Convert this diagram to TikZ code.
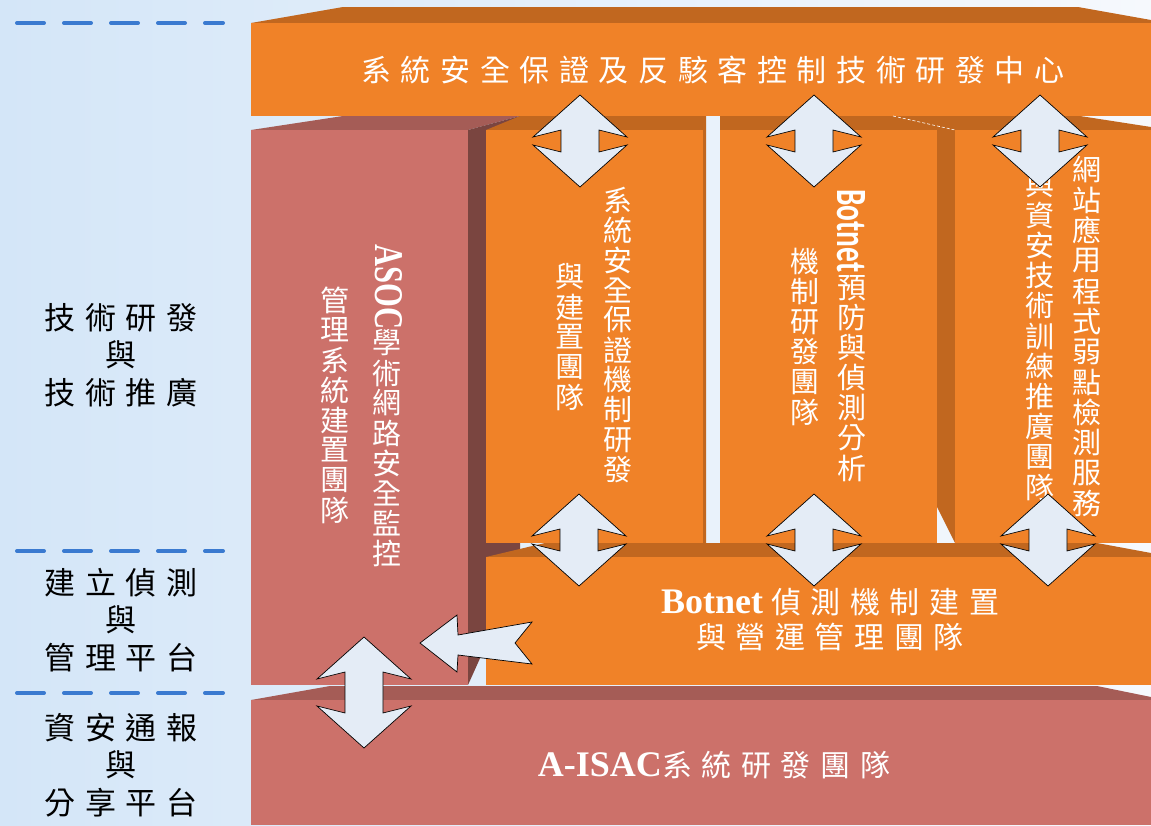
\documentclass[tikz,border=0pt]{standalone}
\usepackage{graphicx}
\usepackage{fontspec}
\setmainfont{Liberation Serif}
\setsansfont{Carlito}
\newfontfamily\cjk{Noto Sans CJK TC}
\newfontfamily\cjkw{Noto Sans CJK TC}[LetterSpace=32]
\usepackage{tikz}
\usetikzlibrary{positioning}

\definecolor{orfront}{RGB}{240,130,40}
\definecolor{ortop}{RGB}{193,103,31}
\definecolor{rdfront}{RGB}{204,113,106}
\definecolor{rdtop}{RGB}{165,92,86}
\definecolor{rdside}{RGB}{122,69,64}
\definecolor{arrfill}{RGB}{228,236,246}
\definecolor{dashblue}{RGB}{58,122,208}
\definecolor{bgleft}{RGB}{212,230,248}
\definecolor{bgright}{RGB}{246,249,253}

\begin{document}
\begin{tikzpicture}[x=1pt,y=-1pt,
	dashline/.style={dashblue,line width=4pt,line cap=round,dash pattern=on 27pt off 20pt},
	dblarrow/.style={fill=arrfill,draw=black,line width=0.7pt},
	vchar/.style={text=white,inner sep=0pt,font=\cjk\fontsize{29}{29}\selectfont},
	sidelabel/.style={align=center,inner sep=0pt,font=\cjkw\fontsize{31}{37.5}\selectfont},
	blocktext/.style={text=white,align=center,inner sep=0pt,font=\cjkw\fontsize{30}{35}\selectfont},
	pics/updown/.style={code={
		\draw[dblarrow] (0,0) -- (47,42) -- (19,35) -- (19,#1-35) -- (47,#1-42) -- (0,#1)
			-- (-47,#1-42) -- (-19,#1-35) -- (-19,35) -- (-47,42) -- cycle;}}]
	
	% Sfondo
	\shade[left color=bgleft,right color=bgright] (0,0) rectangle (1151,825);
	\useasboundingbox (0,0) rectangle (1151,825);
	
	% Linee tratteggiate
	\foreach \y in {23,551,693} {
		\draw[dashline] (17,\y) -- (223,\y);
	}
	
	% Etichette a sinistra
	\node[sidelabel] (lab1) at (121,355) {技術研發\\與\\技術推廣};
	\node[sidelabel] (lab2) at (121,620) {建立偵測\\與\\管理平台};
	\node[sidelabel] (lab3) at (121,765) {資安通報\\與\\分享平台};
	
	% Centro in alto
	\fill[ortop] (251,23) -- (343,7) -- (1078,7) -- (1151,20) -- (1151,23) -- cycle;
	\fill[orfront] (251,23) rectangle (1151,116);
	\node[blocktext] (center) at (713,70) {系統安全保證及反駭客控制技術研發中心};
	
	% Blocco ASOC
	\fill[rdtop] (251,130) -- (343,116) -- (520,116) -- (468,130) -- cycle;
	\fill[rdside] (468,130) -- (520,116) -- (520,560) -- (486,645) -- (468,685) -- cycle;
	\fill[rdfront] (251,130) rectangle (468,685);
	
	% Colonne
	\fill[ortop] (486,130) -- (520,116) -- (706,116) -- (706,543) -- (703,543) -- (703,130) -- cycle;
	\fill[orfront] (486,130) rectangle (703,543);
	\fill[ortop] (720,116) -- (955,116) -- (955,543) -- (937,507) -- (937,130) -- (720,130) -- cycle;
	\fill[orfront] (720,130) rectangle (937,543);
	\fill[ortop] (955,130) -- (900,116) -- (1080,116) -- (1151,127) -- (1151,130) -- cycle;
	\draw[white,densely dashed,line width=0.6pt] (893,116) -- (955,130);
	\fill[orfront] (955,130) rectangle (1151,543);
	
	% Blocco Botnet
	\fill[ortop] (486,557) -- (545,543) -- (1097,543) -- (1151,553) -- (1151,557) -- cycle;
	\fill[orfront] (486,557) rectangle (1151,685);
	\node[blocktext] (botnet) at (830,620) {{\fontsize{36}{35}\selectfont\rmfamily\bfseries Botnet}\hspace{8pt}偵測機制建置\\與營運管理團隊};
	
	% Blocco A-ISAC
	\fill[rdtop] (251,700) -- (330,686) -- (1097,686) -- (1151,697) -- (1151,700) -- cycle;
	\fill[rdfront] (251,700) rectangle (1151,825);
	\node[blocktext] (aisac) at (714,765) {{\fontsize{36}{35}\selectfont\rmfamily\bfseries A-ISAC}系統研發團隊};
	
	% Testi verticali
	\node[rotate=-90,text=white,inner sep=0pt] (asoc) at (389,287) {\resizebox{85pt}{27pt}{\bfseries ASOC}};
	\foreach \c [count=\i from 0] in {學,術,網,路,安,全,監,控}
		\node[vchar] (ra\i) at (387,343+30*\i) {\c};
	\foreach \c [count=\i from 0] in {管,理,系,統,建,置,團,隊}
		\node[vchar] (rb\i) at (335,300+30*\i) {\c};
	
	\foreach \c [count=\i from 0] in {系,統,安,全,保,證,機,制,研,發}
		\node[vchar] (ca\i) at (618,200+30*\i) {\c};
	\foreach \c [count=\i from 0] in {與,建,置,團,隊}
		\node[vchar] (cb\i) at (570,277+30*\i) {\c};
	
	\node[rotate=-90,text=white,inner sep=0pt] (botnetv) at (851,231) {\resizebox{83pt}{28pt}{\sffamily\bfseries Botnet}};
	\foreach \c [count=\i from 0] in {預,防,與,偵,測,分,析}
		\node[vchar] (da\i) at (852,288+30*\i) {\c};
	\foreach \c [count=\i from 0] in {機,制,研,發,團,隊}
		\node[vchar] (db\i) at (805,262+30*\i) {\c};
	
	\foreach \c [count=\i from 0] in {網,站,應,用,程,式,弱,點,檢,測,服,務}
		\node[vchar] (ea\i) at (1087,170+30.3*\i) {\c};
	\foreach \c [count=\i from 0] in {與,資,安,技,術,訓,練,推,廣,團,隊}
		\node[vchar] (eb\i) at (1040,185+30.2*\i) {\c};
	
	% Frecce
	\foreach \x in {580,814,1040} {
		\pic at (\x,95) {updown=92};
	}
	\foreach \x in {579,814,1048} {
		\pic at (\x,494) {updown=92};
	}
	\pic at (364,637) {updown=111};
	\draw[dblarrow] (420,643) -- (457,615) -- (458,635) -- (532,622) -- (515,643)
		-- (532,664) -- (458,655) -- (457,672) -- cycle;
	
\end{tikzpicture}
\end{document}
